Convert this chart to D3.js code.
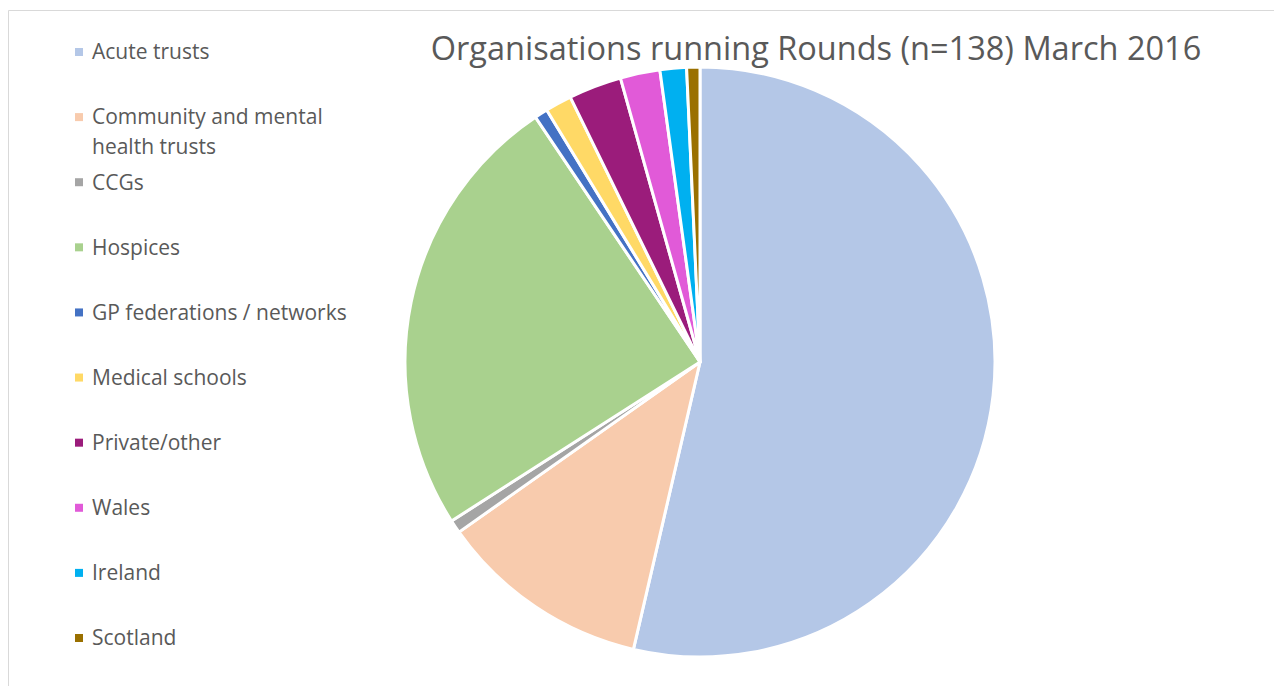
<!DOCTYPE html>
<html>
<head>
<meta charset="utf-8">
<script src="https://cdn.jsdelivr.net/npm/d3@7"></script>
<style>
  html, body { margin: 0; padding: 0; background: #fff; }
  svg { display: block; font-family: "Open Sans", "Noto Sans", sans-serif; }
</style>
</head>
<body>
<svg id="chart"></svg>
<script>
const categories = [
  "Acute trusts", "Community and mental health trusts", "CCGs", "Hospices",
  "GP federations / networks", "Medical schools", "Private/other",
  "Wales", "Ireland", "Scotland"
];
const values = [74, 16, 1, 34, 1, 2, 4, 3, 2, 1];
const colors = [
  "#b4c7e7", "#f8cbad", "#a5a5a5", "#a9d18e", "#4472c4",
  "#ffd966", "#9b1c7b", "#e15ad8", "#00b0f0", "#9a7000"
];
// legend labels wrapped like the original
const legendLines = [
  ["Acute trusts"], ["Community and mental", "health trusts"], ["CCGs"], ["Hospices"],
  ["GP federations / networks"], ["Medical schools"], ["Private/other"],
  ["Wales"], ["Ireland"], ["Scotland"]
];
const title = "Organisations running Rounds (n=138) March 2016";

const width = 1274;
const height = 686;

const svg = d3.select("#chart")
  .attr("width", width)
  .attr("height", height);

// chart area border
svg.append("path")
  .attr("d", `M8.5,${height} V10.5 H${width}`)
  .attr("fill", "none")
  .attr("stroke", "#d9d9d9")
  .attr("stroke-width", 1);

svg.append("text")
  .attr("x", 816)
  .attr("y", 60)
  .attr("text-anchor", "middle")
  .attr("fill", "#595959")
  .attr("font-size", 32.5)
  .text(title);

const data = categories.map((c, i) => ({ name: c, value: values[i], color: colors[i] }));

const pie = d3.pie().sort(null).value(d => d.value);
const arc = d3.arc().innerRadius(0).outerRadius(295);

const g = svg.append("g").attr("transform", "translate(700,362)");

g.selectAll("path")
  .data(pie(data))
  .join("path")
  .attr("d", arc)
  .attr("fill", d => d.data.color)
  .attr("stroke", "#fff")
  .attr("stroke-width", 3)
  .attr("stroke-linejoin", "round");

// legend
const legendY = d3.scaleLinear().domain([0, categories.length - 1]).range([52, 638]);

const legend = svg.append("g")
  .selectAll("g")
  .data(data)
  .join("g")
  .attr("transform", (d, i) => `translate(0,${legendY(i)})`);

legend.append("rect")
  .attr("x", 75)
  .attr("y", -4)
  .attr("width", 8)
  .attr("height", 8)
  .attr("fill", d => d.color);

legend.append("text")
  .attr("fill", "#595959")
  .attr("font-size", 21)
  .selectAll("tspan")
  .data((d, i) => legendLines[i])
  .join("tspan")
  .attr("x", 92)
  .attr("y", (d, j) => j * 30)
  .attr("dy", "0.35em")
  .text(d => d);
</script>
</body>
</html>
